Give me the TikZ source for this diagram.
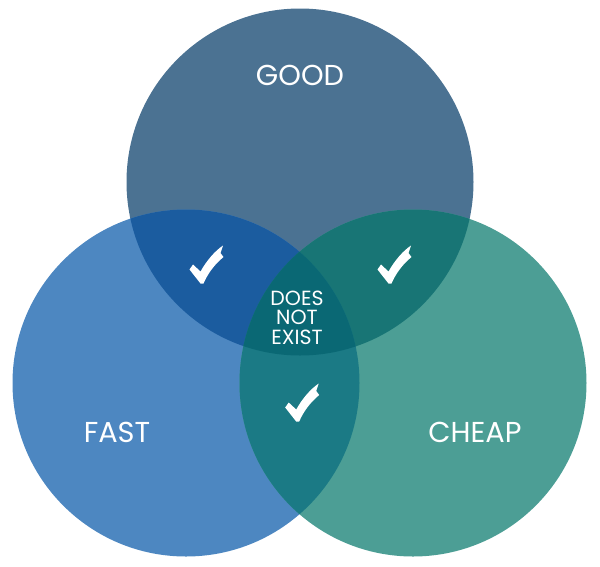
\documentclass[tikz,border=0pt]{standalone}
\usepackage{fontspec}
\setmainfont{Poppins}
\definecolor{cgood}{HTML}{4B7292}
\definecolor{cfast}{HTML}{4D87C1}
\definecolor{ccheap}{HTML}{4C9E95}
\definecolor{cgf}{HTML}{1B5C9F}
\definecolor{cgc}{HTML}{187575}
\definecolor{cfc}{HTML}{1B7A85}
\definecolor{call}{HTML}{0A6874}
\tikzset{
  lbl/.style={text=white, font=\fontsize{28.8}{31}\selectfont, inner sep=0pt},
  small/.style={text=white, font=\fontsize{20.5}{19.5}\selectfont, align=center, inner sep=0pt},
}
\newcommand\cGood{(300,182) circle[radius=173.5pt]}
\newcommand\cFast{(186,383) circle[radius=173.5pt]}
\newcommand\cCheap{(413,383) circle[radius=173.5pt]}
\newcommand\chk[2]{\fill[white, shift={(#1,#2)}] (9.5,29.5) -- (13,24.5) -- (20.5,31.5) .. controls (27,20) and (35,11) .. (43,5.5) -- (40.5,13) -- (43.5,17) .. controls (35,24) and (28,33) .. (23.5,43.5) -- (20.5,43.5) -- cycle;}
\begin{document}
\begin{tikzpicture}[x=1pt,y=-1pt]
\useasboundingbox (0,0) rectangle (600,566);
\fill[cgood] \cGood;
\fill[cfast] \cFast;
\fill[ccheap] \cCheap;
\begin{scope}\clip \cGood; \fill[cgf] \cFast; \end{scope}
\begin{scope}\clip \cGood; \fill[cgc] \cCheap; \end{scope}
\begin{scope}\clip \cFast; \fill[cfc] \cCheap; \end{scope}
\begin{scope}\clip \cGood; \clip \cFast; \fill[call] \cCheap; \end{scope}
\chk{180}{240}
\chk{368}{240}
\chk{275.7}{378}
\node[lbl] (good) at (300,75) {GOOD};
\node[lbl] (fast) at (117,432) {FAST};
\node[lbl] (cheap) at (475,432) {CHEAP};
\node[small] (dne) at (297,317.5) {DOES\\NOT\\EXIST};
\end{tikzpicture}
\end{document}
